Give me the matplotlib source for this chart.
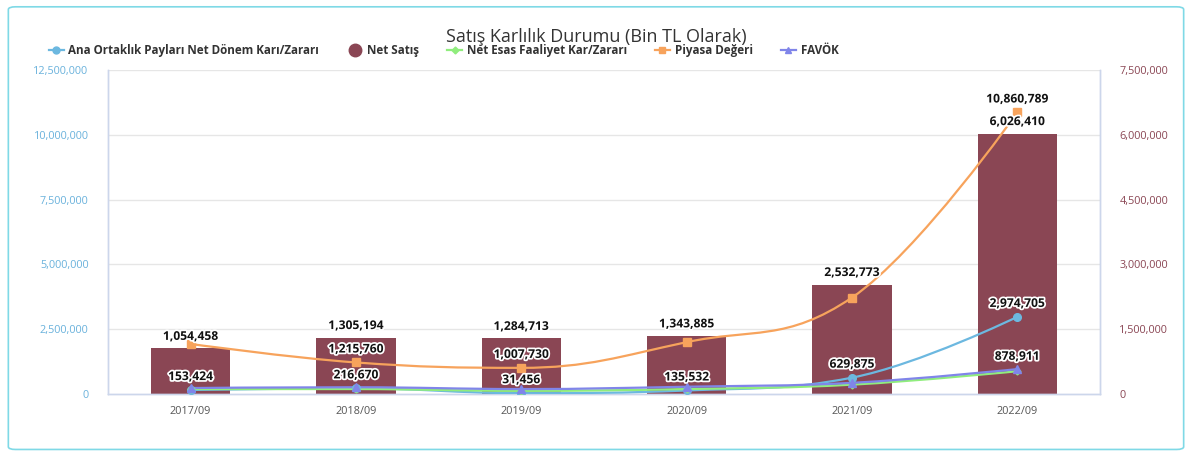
import matplotlib
matplotlib.use("Agg")
import matplotlib.pyplot as plt
import matplotlib.patheffects as pe
from matplotlib.path import Path
from matplotlib.patches import PathPatch, FancyBboxPatch
from matplotlib.lines import Line2D
from matplotlib.ticker import FuncFormatter
import numpy as np

plt.rcParams["font.family"] = ["Open Sans", "DejaVu Sans"]

# data
periods = ["2017/09", "2018/09", "2019/09", "2020/09", "2021/09", "2022/09"]
net_satis = [1054458, 1305194, 1284713, 1343885, 2532773, 6026410]
ana_ortaklik = [153424, 216670, 31456, 135532, 629875, 2974705]
net_esas = [190000, 190000, 120000, 190000, 360000, 878911]
piyasa = [1930000, 1215760, 1007730, 2000000, 3720000, 10860789]
favok = [230000, 260000, 190000, 280000, 430000, 960000]

c_blue = "#6cb8e0"
c_bar = "#8a4654"
c_green = "#90ed7d"
c_orange = "#f7a35c"
c_purple = "#8085e9"
c_axis = "#ccd6eb"


def spline_path(xs, ys, smoothing=1.5):
    # highcharts style spline control points
    n = len(xs)
    left = [None] * n
    right = [None] * n
    denom = smoothing + 1
    for i in range(1, n - 1):
        px, py = xs[i], ys[i]
        lx, ly = xs[i - 1], ys[i - 1]
        nx, ny = xs[i + 1], ys[i + 1]
        lcx = (smoothing * px + lx) / denom
        lcy = (smoothing * py + ly) / denom
        rcx = (smoothing * px + nx) / denom
        rcy = (smoothing * py + ny) / denom
        if rcx != lcx:
            corr = (rcy - lcy) * (rcx - px) / (rcx - lcx) + py - rcy
            lcy += corr
            rcy += corr
        if lcy > max(ly, py):
            lcy = max(ly, py)
            rcy = 2 * py - lcy
        elif lcy < min(ly, py):
            lcy = min(ly, py)
            rcy = 2 * py - lcy
        if rcy > max(py, ny):
            rcy = max(py, ny)
            lcy = 2 * py - rcy
        elif rcy < min(py, ny):
            rcy = min(py, ny)
            lcy = 2 * py - rcy
        left[i] = (lcx, lcy)
        right[i] = (rcx, rcy)
    verts = [(xs[0], ys[0])]
    codes = [Path.MOVETO]
    for i in range(1, n):
        c1 = right[i - 1] or (xs[i - 1], ys[i - 1])
        c2 = left[i] or (xs[i], ys[i])
        verts += [c1, c2, (xs[i], ys[i])]
        codes += [Path.CURVE4] * 3
    return Path(verts, codes)


fig = plt.figure(figsize=(11.92, 4.54), dpi=100)
fig.patches.append(FancyBboxPatch((0.007, 0.01), 0.986, 0.975,
                                  boxstyle="round,pad=0,rounding_size=0.006",
                                  transform=fig.transFigure, fill=False,
                                  edgecolor="#7fd9e6", linewidth=1.2))

ax = fig.add_axes([0.0906, 0.1322, 0.8322, 0.7137])
ax2 = ax.twinx()
ax.set_zorder(2)
ax.patch.set_visible(False)

x = np.arange(len(periods))
halo = [pe.withStroke(linewidth=2.5, foreground="white")]

# bars on right axis
ax2.bar(x, net_satis, width=0.48, color=c_bar, zorder=2)
ax2.set_ylim(0, 7500000)
ax2.set_yticks(np.arange(0, 7500001, 1500000))
ax2.yaxis.set_major_formatter(FuncFormatter(lambda v, p: "{:,.0f}".format(v)))
ax2.tick_params(axis="y", length=0, labelsize=7.8, labelcolor="#8a4654", pad=14)

ax.set_xlim(-0.5, 5.5)
ax.set_ylim(0, 12500000)
ax.set_yticks(np.arange(0, 12500001, 2500000))
ax.yaxis.set_major_formatter(FuncFormatter(lambda v, p: "{:,.0f}".format(v)))
ax.tick_params(axis="y", length=0, labelsize=7.8, labelcolor="#6ab2dc", pad=14)
ax.set_xticks(x)
ax.set_xticklabels(periods)
ax.tick_params(axis="x", length=0, labelsize=7.8, labelcolor="#555555", pad=9)
for yv in np.arange(2500000, 12500001, 2500000):
    ax2.axhline(yv * 7500000 / 12500000, color="#e6e6e6", linewidth=1, zorder=0)

for a in (ax, ax2):
    a.spines["top"].set_visible(False)
    for s in ("left", "right", "bottom"):
        a.spines[s].set_color(c_axis)
        a.spines[s].set_linewidth(1)

series = [
    (ana_ortaklik, c_blue, "o", 5.5),
    (net_esas, c_green, "D", 3.5),
    (piyasa, c_orange, "s", 5.5),
    (favok, c_purple, "^", 5.5),
]
for vals, col, mk, ms in series:
    ax.add_patch(PathPatch(spline_path(list(x), vals), fill=False, edgecolor=col,
                           linewidth=1.6, zorder=3))
    ax.plot(x, vals, linestyle="none", marker=mk, markersize=ms, color=col, zorder=4)

# bar labels, placed on the line axes so they sit above the lines
for xi, v in zip(x, net_satis):
    ax.annotate("{:,}".format(v), (xi, v * 12500000 / 7500000), xytext=(0, 4),
                textcoords="offset points", ha="center", va="bottom", fontsize=8.7,
                fontweight="bold", color="#111111", path_effects=halo, zorder=6)


def label(vals, idx, dy=5):
    for i in idx:
        ax.annotate("{:,}".format(vals[i]), (x[i], vals[i]), xytext=(0, dy),
                    textcoords="offset points", ha="center", va="bottom",
                    fontsize=8.7, fontweight="bold", color="#111111",
                    path_effects=halo, zorder=6)


label(ana_ortaklik, range(6))
label(piyasa, [1, 2, 5])
label(net_esas, [5], dy=6)

# title and legend
fig.text(0.5, 0.918, "Satış Karlılık Durumu (Bin TL Olarak)", ha="center", va="center",
         fontsize=13, color="#333333")
handles = [
    Line2D([], [], color=c_blue, marker="o", markersize=5, linewidth=1.6),
    Line2D([], [], color=c_bar, marker="o", markersize=9, linestyle="none"),
    Line2D([], [], color=c_green, marker="D", markersize=3.5, linewidth=1.6),
    Line2D([], [], color=c_orange, marker="s", markersize=5, linewidth=1.6),
    Line2D([], [], color=c_purple, marker="^", markersize=5, linewidth=1.6),
]
names = ["Ana Ortaklık Payları Net Dönem Karı/Zararı", "Net Satış",
         "Net Esas Faaliyet Kar/Zararı", "Piyasa Değeri", "FAVÖK"]
fig.legend(handles, names, ncol=5, loc="center", bbox_to_anchor=(0.372, 0.888),
           frameon=False, prop={"size": 8.4, "weight": "bold"}, handlelength=1.3,
           handletextpad=0.4, columnspacing=2.4, labelcolor="#333333")

fig.savefig("out.png", dpi=100)
